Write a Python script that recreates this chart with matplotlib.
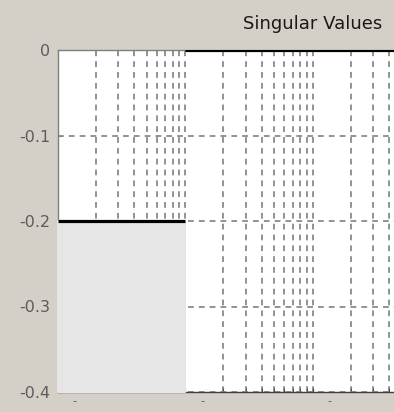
import matplotlib.pyplot as plt
import matplotlib.transforms as mtransforms
import numpy as np

plt.rcParams['font.family'] = ['DejaVu Sans']

# singular value trace (two flat pieces, no vertical jump between them)
freq_lo = [1e-2, 1e-1]
sv_lo = [-0.2, -0.2]
freq_hi = [1e-1, 1e2]
sv_hi = [0.0, 0.0]

y_ticks = [0, -0.1, -0.2, -0.3, -0.4]
y_labels = ['0', '-0.1', '-0.2', '-0.3', '-0.4']
x_decades = [1e-2, 1e-1, 1e0]

bg = '#d4d0c8'
grid_kw = dict(color='#8a8a8a', linestyle=(0, (3.2, 2.8)), linewidth=1.3)

fig = plt.figure(figsize=(3.94, 4.12), dpi=100, facecolor=bg)
# axes runs past the right edge of the figure
ax = fig.add_axes([57.5 / 394, 20 / 412, 510 / 394, 342 / 412])
ax.set_facecolor('white')
ax.set_xscale('log')
ax.set_xlim(1e-2, 1e2)
ax.set_ylim(-0.4, 0)

ax.set_axisbelow(True)
ax.grid(True, which='both', axis='x', **grid_kw)
ax.grid(True, which='major', axis='y', **grid_kw)

# shaded band under the low section
ax.fill_between(freq_lo, sv_lo, -0.4, color='#e6e6e6', edgecolor='#e6e6e6',
                linewidth=1.5, zorder=3, clip_on=False)

ax.plot(freq_lo, sv_lo, color='black', linewidth=2.3, zorder=4, solid_capstyle='butt')
ax.plot(freq_hi, sv_hi, color='black', linewidth=2.3, zorder=4, solid_capstyle='butt')

ax.set_yticks(y_ticks)
ax.set_yticklabels(y_labels)
ax.set_xticks(x_decades)
ax.set_xticklabels([])

# clipped decade labels: only a small dash shows below the axis
base = mtransforms.blended_transform_factory(ax.transData, ax.transAxes)
for xd in x_decades:
    tr = mtransforms.offset_copy(base, fig=fig, x=17, y=-9, units='dots')
    ax.text(xd, 0, '-', transform=tr, ha='center', va='center',
            fontsize=8, color='#555555', clip_on=False)

ax.tick_params(axis='y', direction='in', length=3, color='#808080',
               labelcolor='#5c5c5c', labelsize=11.5, pad=5)
ax.tick_params(axis='x', which='both', direction='in', length=3, color='#404040')

for side in ['left', 'top']:
    ax.spines[side].set_color('#808080')
ax.spines['bottom'].set_color('#404040')
for sp in ax.spines.values():
    sp.set_linewidth(1)

ax.set_title('Singular Values', fontsize=13, color='#1a1a1a', pad=15)

fig.savefig('out.png', dpi=100, facecolor=bg)
